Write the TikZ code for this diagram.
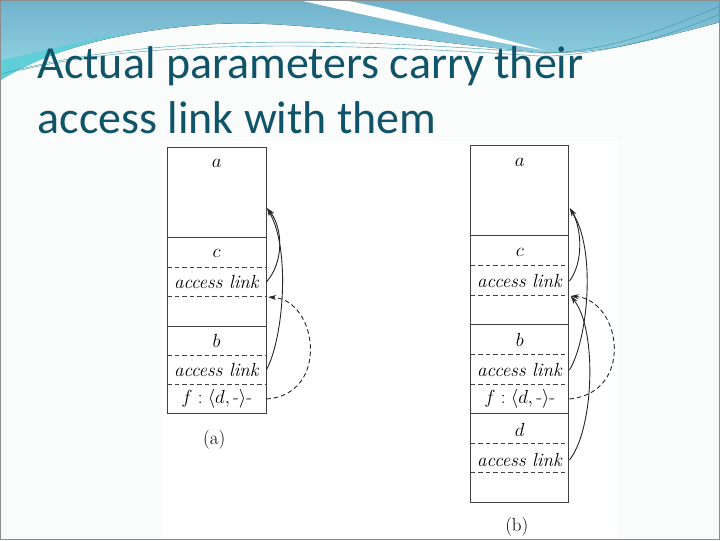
\RequirePackage{fix-cm}
\documentclass[tikz,border=0pt]{standalone}
\usepackage{fontspec}
\usepackage{amsmath}
\newfontfamily\titlefont{Carlito}
\usetikzlibrary{arrows.meta}

\definecolor{titleteal}{RGB}{16,84,106}
\definecolor{slidebg}{RGB}{250,251,251}
\definecolor{wavetop}{RGB}{112,178,204}
\definecolor{wavebot}{RGB}{150,214,228}
\definecolor{wavecyan}{RGB}{96,206,216}
\definecolor{waveline}{RGB}{60,150,170}

\tikzset{
  cell/.style={minimum width=99pt, inner sep=0pt, font=\fontsize{19}{22}\selectfont},
  link/.style={draw=black!85, line width=0.9pt, -{Stealth[length=8pt,width=5pt]}},
  sep/.style={dashed, dash pattern=on 4.5pt off 3pt, line width=0.8pt, black!75},
  frame/.style={line width=0.9pt, black!75}
}

\begin{document}
\begin{tikzpicture}[x=1pt,y=-1pt]

  % slide background and top wave
  \fill[slidebg] (0,0) rectangle (720,540);
  \fill[top color=wavetop, bottom color=wavebot] (0,0) -- (720,0) -- (720,22)
    .. controls (650,40) and (600,55) .. (540,52)
    .. controls (420,42) and (300,18) .. (210,24)
    .. controls (120,30) and (50,50) .. (0,78) -- cycle;
  \fill[wavecyan] (0,60) .. controls (40,52) and (80,40) .. (130,32)
    .. controls (70,45) and (30,62) .. (0,80) -- cycle;
  \fill[white] (300,0) .. controls (380,18) and (450,34) .. (545,50)
    .. controls (470,30) and (400,10) .. (345,0) -- cycle;
  \draw[waveline, line width=0.4pt] (0,74) .. controls (150,32) and (350,38) .. (545,53)
    .. controls (620,50) and (680,22) .. (720,6);
  \draw[waveline, line width=0.4pt] (20,70) .. controls (160,36) and (360,44) .. (545,56)
    .. controls (630,52) and (690,26) .. (720,14);
  \draw[black!45, line width=0.8pt] (0,0) rectangle (720,540);

  % title
  \node[anchor=base west, inner sep=0pt, text=titleteal, font=\titlefont\fontsize{46}{54}\selectfont]
    (title1) at (37,78) {Actual parameters carry their};
  \node[anchor=base west, inner sep=0pt, text=titleteal, font=\titlefont\fontsize{46}{54}\selectfont]
    (title2) at (37,133) {access link with them};

  % scanned figure area
  \fill[white] (162,141) rectangle (618,539);

  % (a)
  \draw[frame] (167,147) rectangle (266,414);
  \draw[frame] (167,237) -- (266,237);
  \draw[frame] (167,326) -- (266,326);
  \draw[sep] (167,267) -- (266,267);
  \draw[sep] (167,296) -- (266,296);
  \draw[sep] (167,355) -- (266,355);
  \draw[sep] (167,384) -- (266,384);

  \node[cell] (aA) at (216.5,163) {$a$};
  \node[cell] (cA) at (216.5,253) {$c$};
  \node[cell] (alcA) at (216.5,282) {\textit{access link}};
  \node[cell] (bA) at (216.5,341) {$b$};
  \node[cell] (albA) at (216.5,370) {\textit{access link}};
  \node[cell] (fA) at (216.5,399) {$f:\langle d,\text{-}\rangle$-};
  \node[font=\fontsize{19}{22}\selectfont] (capA) at (214,440) {(a)};

  \coordinate (toaA) at (267,208);
  \coordinate (tocA) at (268,297);

  \draw[link] (alcA.east) .. controls (284,262) and (283,228) .. (toaA);
  \draw[link] (albA.east) .. controls (283,340) and (291,250) .. (toaA);
  \draw[link, dashed, dash pattern=on 4.5pt off 3pt] (fA.east) .. controls (330,395) and (318,300) .. (tocA);

  % (b)
  \draw[frame] (471,145) rectangle (569,503);
  \draw[frame] (471,235) -- (569,235);
  \draw[frame] (471,324) -- (569,324);
  \draw[frame] (471,414) -- (569,414);
  \draw[sep] (471,265) -- (569,265);
  \draw[sep] (471,295) -- (569,295);
  \draw[sep] (471,354) -- (569,354);
  \draw[sep] (471,384) -- (569,384);
  \draw[sep] (471,443) -- (569,443);
  \draw[sep] (471,473) -- (569,473);

  \node[cell] (aB) at (520,162) {$a$};
  \node[cell] (cB) at (520,252) {$c$};
  \node[cell] (alcB) at (520,281) {\textit{access link}};
  \node[cell] (bB) at (520,340) {$b$};
  \node[cell] (albB) at (520,370) {\textit{access link}};
  \node[cell] (fB) at (520,399) {$f:\langle d,\text{-}\rangle$-};
  \node[cell] (dB) at (520,430) {$d$};
  \node[cell] (aldB) at (520,460) {\textit{access link}};
  \node[font=\fontsize{19}{22}\selectfont] (capB) at (517,527) {(b)};

  \coordinate (toaB) at (570,208);
  \coordinate (tocB) at (571,296);

  \draw[link] (alcB.east) .. controls (584,262) and (582,228) .. (toaB);
  \draw[link] (albB.east) .. controls (588,340) and (597,250) .. (toaB);
  \draw[link, dashed, dash pattern=on 4.5pt off 3pt] (fB.east) .. controls (635,393) and (622,300) .. (tocB);
  \draw[link] (aldB.east) .. controls (594,430) and (598,330) .. (tocB);

\end{tikzpicture}
\end{document}
